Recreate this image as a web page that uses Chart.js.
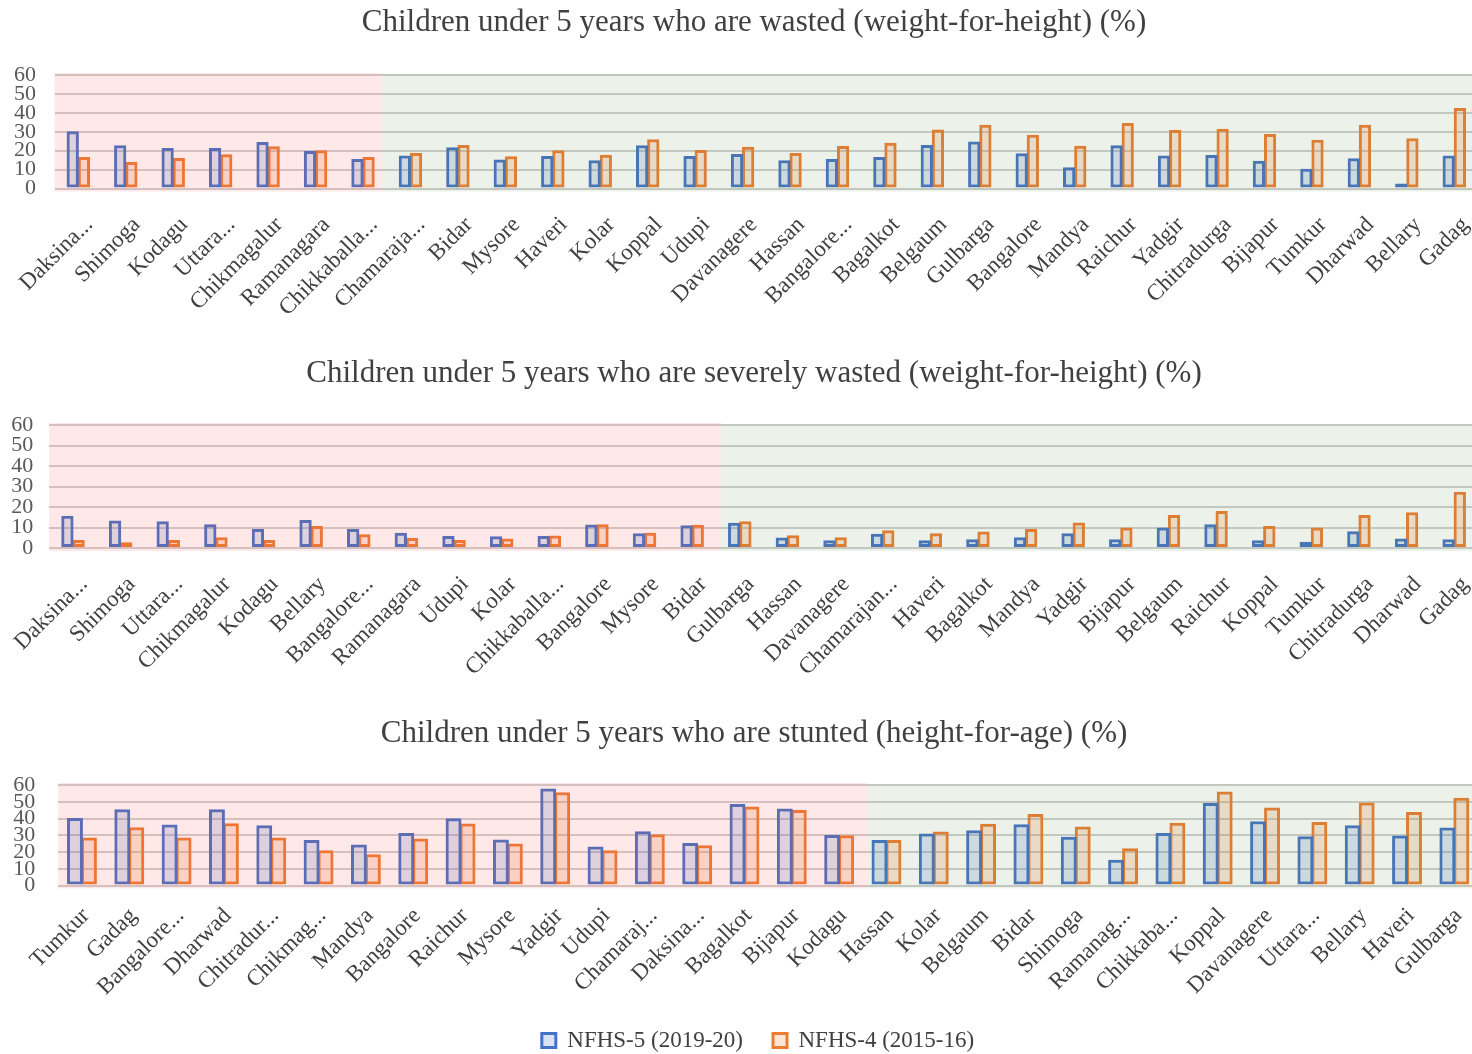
<!DOCTYPE html>
<html>
<head>
<meta charset="utf-8">
<script src="https://cdn.jsdelivr.net/npm/chart.js@4.4.1/dist/chart.umd.min.js"></script>
<style>
  html, body { margin: 0; padding: 0; background: #fff; overflow: hidden; width: 1472px; height: 1054px; }
  .panel { position: absolute; left: 0; width: 1480px; }
</style>
</head>
<body>
<div class="panel" style="top:0;height:351px"><canvas id="wasted"></canvas></div>
<div class="panel" style="top:351px;height:360px"><canvas id="severe"></canvas></div>
<div class="panel" style="top:711px;height:351px"><canvas id="stunted"></canvas></div>
<script>
// ---- Data: Karnataka districts, NFHS-5 (2019-20) vs NFHS-4 (2015-16) ----
const seriesNames = ['NFHS-5 (2019-20)', 'NFHS-4 (2015-16)'];
const yTicks = [0, 10, 20, 30, 40, 50, 60];

const wastedTitle = 'Children under 5 years who are wasted (weight-for-height) (%)';
const wastedDistricts = ['Daksina...', 'Shimoga', 'Kodagu', 'Uttara...', 'Chikmagalur', 'Ramanagara',
  'Chikkaballa...', 'Chamaraja...', 'Bidar', 'Mysore', 'Haveri', 'Kolar', 'Koppal', 'Udupi', 'Davanagere',
  'Hassan', 'Bangalore...', 'Bagalkot', 'Belgaum', 'Gulbarga', 'Bangalore', 'Mandya', 'Raichur', 'Yadgir',
  'Chitradurga', 'Bijapur', 'Tumkur', 'Dharwad', 'Bellary', 'Gadag'];
const wastedNfhs5 = [30.2, 22.8, 21.4, 21.4, 24.6, 19.8, 15.6, 17.5, 21.8, 15.3, 17.2, 14.9, 22.8, 17.2, 18.2,
  14.9, 15.6, 16.7, 23.0, 24.9, 18.6, 11.2, 22.8, 17.4, 17.7, 14.7, 10.5, 16.0, 2.6, 17.5];
const wastedNfhs4 = [16.7, 14.0, 16.1, 18.1, 22.3, 20.2, 16.7, 18.8, 23.0, 17.0, 20.2, 17.9, 26.1, 20.4, 22.1,
  18.8, 22.5, 24.2, 31.2, 33.7, 28.4, 22.6, 34.6, 30.9, 31.6, 28.8, 25.8, 33.7, 26.5, 42.6];

const severeTitle = 'Children under 5 years who are severely wasted (weight-for-height) (%)';
const severeDistricts = ['Daksina...', 'Shimoga', 'Uttara...', 'Chikmagalur', 'Kodagu', 'Bellary',
  'Bangalore...', 'Ramanagara', 'Udupi', 'Kolar', 'Chikkaballa...', 'Bangalore', 'Mysore', 'Bidar', 'Gulbarga',
  'Hassan', 'Davanagere', 'Chamarajan...', 'Haveri', 'Bagalkot', 'Mandya', 'Yadgir', 'Bijapur', 'Belgaum',
  'Raichur', 'Koppal', 'Tumkur', 'Chitradurga', 'Dharwad', 'Gadag'];
const severeNfhs5 = [15.7, 13.4, 13.1, 11.6, 9.3, 13.6, 9.3, 7.5, 5.9, 5.7, 5.9, 11.5, 7.2, 11.1, 12.3,
  5.1, 3.8, 6.9, 3.8, 4.3, 5.2, 7.2, 4.3, 10.0, 11.6, 3.8, 3.1, 8.2, 4.6, 4.3];
const severeNfhs4 = [3.9, 2.8, 3.9, 5.2, 3.9, 10.7, 6.7, 4.9, 3.9, 4.6, 6.1, 11.6, 7.5, 11.3, 13.1,
  6.2, 5.2, 8.7, 7.2, 8.0, 9.3, 12.5, 10.0, 16.1, 18.0, 10.7, 10.0, 16.1, 17.5, 27.5];

const stuntedTitle = 'Children under 5 years who are stunted (height-for-age) (%)';
const stuntedDistricts = ['Tumkur', 'Gadag', 'Bangalore...', 'Dharwad', 'Chitradur...', 'Chikmag...', 'Mandya',
  'Bangalore', 'Raichur', 'Mysore', 'Yadgir', 'Udupi', 'Chamaraj...', 'Daksina...', 'Bagalkot', 'Bijapur',
  'Kodagu', 'Hassan', 'Kolar', 'Belgaum', 'Bidar', 'Shimoga', 'Ramanag...', 'Chikkaba...', 'Koppal',
  'Davanagere', 'Uttara...', 'Bellary', 'Haveri', 'Gulbarga'];
const stuntedNfhs5 = [40.3, 45.5, 36.4, 45.5, 36.0, 27.1, 24.5, 31.4, 40.1, 27.5, 57.9, 23.3, 32.4, 25.3, 48.6,
  46.0, 30.2, 27.1, 31.0, 33.0, 36.6, 29.1, 15.4, 31.4, 49.2, 38.3, 29.4, 36.0, 29.8, 34.6];
const stuntedNfhs4 = [28.7, 34.8, 28.7, 37.2, 28.7, 21.1, 18.6, 28.1, 37.0, 25.1, 55.7, 21.1, 30.6, 24.1, 47.2,
  45.1, 30.0, 27.1, 32.2, 36.8, 42.7, 35.2, 22.3, 37.4, 56.1, 46.6, 37.9, 49.6, 43.9, 52.4];

// ---- Styling ----
const FONT = "'Liberation Serif', 'DejaVu Serif', serif";
const BLUE = '#4472C4', ORANGE = '#ED7D31';
const BLUE_FILL = 'rgba(68,114,196,0.2)', ORANGE_FILL = 'rgba(237,125,49,0.2)';
const PINK_SHADE = 'rgba(245,80,80,0.13)', GREEN_SHADE = 'rgba(100,140,70,0.12)';

// Translucent pink / green bands laid over the plot, split between two district groups
const regionShade = {
  id: 'regionShade',
  afterDatasetsDraw(chart, args, opts) {
    const { ctx, chartArea: a, scales } = chart;
    const xs = scales.x.getPixelForValue(opts.split);
    ctx.save();
    ctx.fillStyle = PINK_SHADE;
    ctx.fillRect(a.left, a.top - 2, xs - a.left, a.bottom - a.top + 5);
    ctx.fillStyle = GREEN_SHADE;
    ctx.fillRect(xs, a.top - 1, a.right - xs, a.bottom - a.top + 4);
    ctx.restore();
  }
};

// Nudge the title and legend boxes sideways after layout
const boxNudge = {
  id: 'boxNudge',
  afterLayout(chart, args, opts) {
    const t = chart.titleBlock, l = chart.legend;
    if (t) { t.left += opts.title; t.right += opts.title; }
    if (l && l.options.display) { l.left += opts.legend; l.right += opts.legend; }
  }
};

function makeChart(id, p) {
  return new Chart(document.getElementById(id), {
    type: 'bar',
    data: {
      labels: p.labels,
      datasets: [
        { label: seriesNames[0], data: p.a, backgroundColor: BLUE_FILL, borderColor: BLUE },
        { label: seriesNames[1], data: p.b, backgroundColor: ORANGE_FILL, borderColor: ORANGE }
      ]
    },
    options: {
      responsive: true,
      maintainAspectRatio: false,
      animation: false,
      layout: { padding: { left: 0, right: 2, top: 0, bottom: 0 } },
      datasets: {
        bar: {
          borderWidth: 3,
          borderSkipped: false,
          categoryPercentage: p.catPct,
          barPercentage: p.barPct
        }
      },
      plugins: {
        title: {
          display: true,
          text: p.title,
          color: '#404040',
          font: { family: FONT, size: 31, weight: 'normal' },
          padding: { top: 4, bottom: p.titleGap }
        },
        legend: {
          display: p.legend,
          position: 'bottom',
          labels: {
            color: '#404040',
            font: { family: FONT, size: 23 },
            boxWidth: 14,
            boxHeight: 14,
            padding: 30
          }
        },
        tooltip: { enabled: false },
        regionShade: { split: p.split },
        boxNudge: { title: 15, legend: 19 }
      },
      scales: {
        x: {
          grid: { display: false },
          border: { display: false },
          ticks: {
            autoSkip: false,
            maxRotation: 45,
            minRotation: 45,
            padding: p.xPad,
            labelOffset: p.xShift,
            color: '#404040',
            font: { family: FONT, size: 23 }
          },
          afterFit(s) {
            s.height = p.xHeight;
            s.paddingLeft = 0;
            s.paddingRight = 0;
          }
        },
        y: {
          min: 0,
          max: 60,
          afterBuildTicks(s) { s.ticks = yTicks.map(v => ({ value: v })); },
          grid: { color: '#d0d0d0', lineWidth: 2, drawTicks: false },
          border: { display: false },
          ticks: {
            autoSkip: false,
            padding: p.yPad,
            color: '#595959',
            font: { family: FONT, size: 22 }
          },
          afterFit(s) { s.width = p.yWidth; }
        }
      }
    },
    plugins: [regionShade, boxNudge]
  });
}

makeChart('wasted', {
  title: wastedTitle, labels: wastedDistricts, a: wastedNfhs5, b: wastedNfhs4,
  split: 6.4, catPct: 0.47, barPct: 1.1, titleGap: 33.8, xHeight: 162.5,
  xPad: 15, xShift: 11, yWidth: 54.6, yPad: 18.6, legend: false
});
makeChart('severe', {
  title: severeTitle, labels: severeDistricts, a: severeNfhs5, b: severeNfhs4,
  split: 13.6, catPct: 0.47, barPct: 1.1, titleGap: 32.8, xHeight: 163,
  xPad: 15, xShift: 11, yWidth: 49.2, yPad: 16, legend: false
});
makeChart('stunted', {
  title: stuntedTitle, labels: stuntedDistricts, a: stuntedNfhs5, b: stuntedNfhs4,
  split: 16.6, catPct: 0.59, barPct: 1.14, titleGap: 32.8, xHeight: 113.5,
  xPad: 9, xShift: 4, yWidth: 58.3, yPad: 23, legend: true
});
</script>
</body>
</html>
